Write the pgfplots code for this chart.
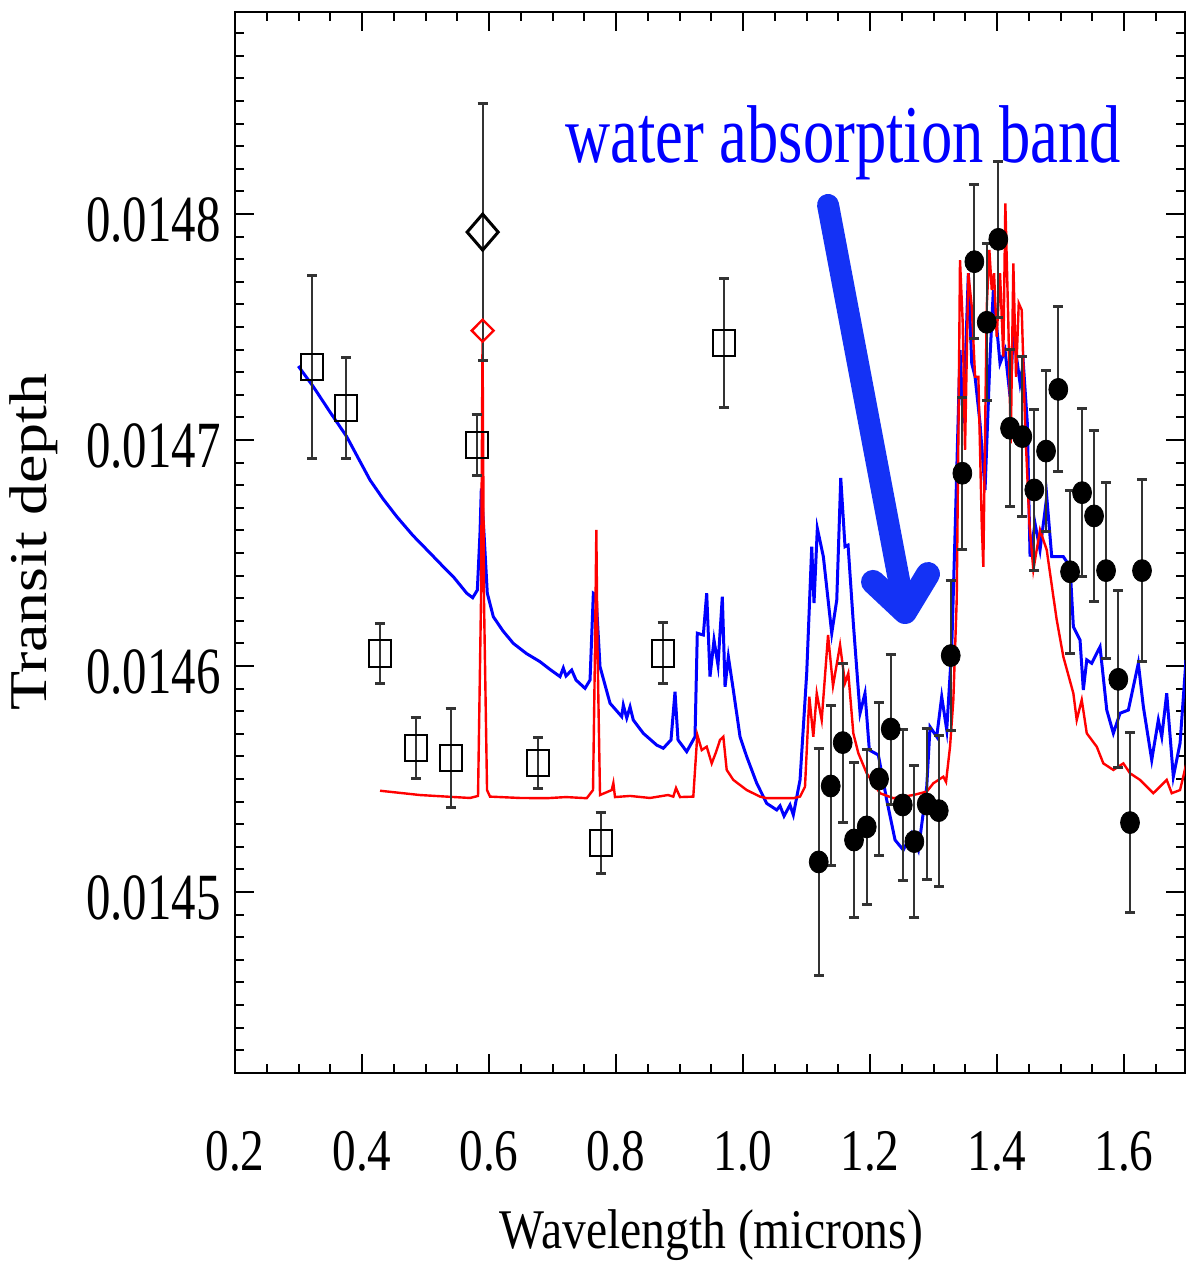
\documentclass[border=0pt]{standalone}
\usepackage{fontspec}
\setmainfont{Liberation Serif}
\usepackage{graphicx}
\usepackage{pgfplots}
\pgfplotsset{compat=1.18}
\definecolor{arrowblue}{RGB}{20,50,245}

\pgfplotstableread{
x y
0.2997 0.0147327
0.3233 0.0147236
0.3496 0.0147124
0.3759 0.0147015
0.3950 0.0146915
0.4126 0.0146823
0.4330 0.0146740
0.4547 0.0146661
0.4800 0.0146578
0.5071 0.0146500
0.5260 0.0146445
0.5438 0.0146395
0.5649 0.0146322
0.5743 0.0146302
0.5816 0.0146336
0.5858 0.0146588
0.5879 0.0146786
0.5921 0.0146588
0.5973 0.0146322
0.6068 0.0146218
0.6220 0.0146155
0.6383 0.0146100
0.6590 0.0146055
0.6803 0.0146019
0.6960 0.0145985
0.7118 0.0145953
0.7170 0.0145991
0.7213 0.0145956
0.7302 0.0145982
0.7370 0.0145938
0.7512 0.0145901
0.7591 0.0145938
0.7643 0.0146322
0.7685 0.0146314
0.7748 0.0145997
0.7906 0.0145835
0.8090 0.0145776
0.8115 0.0145827
0.8169 0.0145770
0.8221 0.0145819
0.8272 0.0145761
0.8430 0.0145702
0.8641 0.0145650
0.8745 0.0145636
0.8866 0.0145673
0.8929 0.0145886
0.8976 0.0145673
0.9113 0.0145621
0.9244 0.0145687
0.9280 0.0146145
0.9375 0.0146137
0.9428 0.0146322
0.9480 0.0145953
0.9543 0.0146115
0.9606 0.0146004
0.9674 0.0146307
0.9717 0.0145908
0.9769 0.0146041
0.9847 0.0145894
0.9953 0.0145687
1.0058 0.0145599
1.0216 0.0145481
1.0373 0.0145392
1.0531 0.0145363
1.0583 0.0145381
1.0646 0.0145336
1.0740 0.0145385
1.0792 0.0145341
1.0898 0.0145496
1.1003 0.0145969
1.1082 0.0146528
1.1118 0.0146279
1.1170 0.0146609
1.1265 0.0146484
1.1397 0.0146145
1.1476 0.0146292
1.1539 0.0146832
1.1606 0.0146528
1.1654 0.0146535
1.1737 0.0146189
1.1843 0.0145791
1.1921 0.0145879
1.1989 0.0145628
1.2131 0.0145606
1.2263 0.0145407
1.2394 0.0145230
1.2524 0.0145186
1.2657 0.0145260
1.2761 0.0145186
1.2893 0.0145466
1.2945 0.0145731
1.3050 0.0145687
1.3129 0.0145864
1.3208 0.0145717
1.3287 0.0146085
1.3339 0.0146587
1.3417 0.0147398
1.3469 0.0147074
1.3548 0.0147738
1.3602 0.0147339
1.3654 0.0147280
1.3732 0.0147074
1.3811 0.0146779
1.3890 0.0147369
1.3942 0.0147664
1.4047 0.0147339
1.4126 0.0147398
1.4205 0.0147192
1.4257 0.0147472
1.4362 0.0147251
1.4414 0.0147339
1.4477 0.0147074
1.4520 0.0146484
1.4598 0.0146631
1.4677 0.0146513
1.4783 0.0146749
1.4861 0.0146484
1.5044 0.0146484
1.5150 0.0146439
1.5202 0.0146174
1.5307 0.0146115
1.5359 0.0145894
1.5413 0.0146027
1.5491 0.0146012
1.5622 0.0146085
1.5728 0.0145805
1.5832 0.0145702
1.5937 0.0145791
1.6068 0.0145805
1.6225 0.0146012
1.6304 0.0145820
1.6436 0.0145584
1.6540 0.0145761
1.6594 0.0145687
1.6672 0.0145879
1.6776 0.0145510
1.6882 0.0145658
1.6976 0.0146027
}\bluemodel

\pgfplotstableread{
x y
0.4284 0.0145448
0.4913 0.0145429
0.5334 0.0145422
0.5701 0.0145416
0.5827 0.0145425
0.5874 0.0146292
0.5898 0.0147443
0.5921 0.0146292
0.5969 0.0145451
0.6016 0.0145422
0.6488 0.0145416
0.6909 0.0145415
0.7213 0.0145420
0.7539 0.0145415
0.7638 0.0145451
0.7669 0.0146071
0.7690 0.0146602
0.7709 0.0146071
0.7748 0.0145429
0.7932 0.0145451
0.7958 0.0145482
0.7984 0.0145420
0.8221 0.0145425
0.8535 0.0145416
0.8819 0.0145429
0.8902 0.0145422
0.8945 0.0145460
0.9008 0.0145420
0.9217 0.0145422
0.9280 0.0145695
0.9350 0.0145628
0.9428 0.0145643
0.9507 0.0145569
0.9575 0.0145619
0.9638 0.0145673
0.9690 0.0145687
0.9743 0.0145540
0.9847 0.0145496
1.0058 0.0145451
1.0268 0.0145422
1.0373 0.0145415
1.0792 0.0145415
1.0898 0.0145422
1.0976 0.0145466
1.1044 0.0145864
1.1107 0.0145687
1.1161 0.0145879
1.1239 0.0145761
1.1339 0.0146137
1.1417 0.0145912
1.1528 0.0146093
1.1606 0.0145925
1.1658 0.0145968
1.1737 0.0145702
1.1816 0.0145614
1.1948 0.0145525
1.2158 0.0145437
1.2367 0.0145415
1.2682 0.0145429
1.2893 0.0145444
1.2997 0.0145481
1.3154 0.0145510
1.3197 0.0145487
1.3260 0.0145643
1.3312 0.0145850
1.3365 0.0146292
1.3394 0.0147089
1.3417 0.0147796
1.3460 0.0147516
1.3496 0.0146956
1.3548 0.0147738
1.3602 0.0147590
1.3654 0.0147280
1.3706 0.0147280
1.3759 0.0146631
1.3784 0.0146439
1.3838 0.0147590
1.3879 0.0147841
1.3917 0.0147664
1.3953 0.0147738
1.3995 0.0147457
1.4047 0.0147738
1.4099 0.0147369
1.4131 0.0148047
1.4178 0.0147516
1.4216 0.0146985
1.4257 0.0147782
1.4299 0.0147280
1.4342 0.0147605
1.4389 0.0147575
1.4441 0.0147074
1.4509 0.0146631
1.4572 0.0146425
1.4677 0.0146602
1.4783 0.0146513
1.4887 0.0146307
1.4940 0.0146204
1.5044 0.0146041
1.5202 0.0145879
1.5255 0.0145761
1.5334 0.0145850
1.5413 0.0145702
1.5570 0.0145643
1.5674 0.0145569
1.5832 0.0145540
1.5989 0.0145569
1.6095 0.0145525
1.6252 0.0145496
1.6461 0.0145437
1.6672 0.0145496
1.6751 0.0145437
1.6882 0.0145451
1.6976 0.0145562
}\redmodel

\begin{document}
\begin{tikzpicture}
\begin{axis}[
  width=475pt, height=530.5pt, scale only axis,
  xmin=0.2, xmax=1.696, ymin=0.0144199, ymax=0.0148894,
  axis line style={line width=1.2pt, black},
  tick style={line width=1pt, black},
  major tick length=9.5pt, minor tick length=4.5pt,
  tick align=inside,
  xtick={0.2,0.4,0.6,0.8,1.0,1.2,1.4,1.6},
  minor xtick={0.25,0.3,0.35,0.45,0.5,0.55,0.65,0.7,0.75,0.85,0.9,0.95,1.05,1.1,1.15,1.25,1.3,1.35,1.45,1.5,1.55,1.65},
  ytick={0.0145,0.0146,0.0147,0.0148},
  minor ytick={0.01443,0.01444,0.01445,0.01446,0.01447,0.01448,0.01449,0.01451,0.01452,0.01453,0.01454,0.01455,0.01456,0.01457,0.01458,0.01459,0.01461,0.01462,0.01463,0.01464,0.01465,0.01466,0.01467,0.01468,0.01469,0.01471,0.01472,0.01473,0.01474,0.01475,0.01476,0.01477,0.01478,0.01479,0.01481,0.01482,0.01483,0.01484,0.01485,0.01486,0.01487,0.01488},
  scaled y ticks=false, scaled x ticks=false,
  /pgf/number format/assume math mode=true,
  xticklabel={\scalebox{0.8}[1]{\fontsize{29.5}{30}\selectfont\pgfmathprintnumber[fixed,fixed zerofill,precision=1]{\tick}}},
  yticklabel={\scalebox{0.74}[1]{\fontsize{33}{34}\selectfont\pgfmathprintnumber[fixed,fixed zerofill,precision=4]{\tick}}},
  xticklabel style={anchor=north, inner sep=0pt, yshift=-29pt},
  yticklabel style={anchor=east, inner sep=0pt, xshift=-7pt, yshift=-3pt},
  error bars/error bar style={line width=1pt, black!80},
  error bars/error mark options={rotate=90, line width=1.5pt, black!80, mark size=2.5pt},
]
\addplot[blue, line width=1.5pt, no marks] table {\bluemodel};
\addplot[red, line width=1.2pt, no marks] table {\redmodel};

% open squares
\addplot[only marks, mark=square, mark size=6.7pt, black, line width=1pt,
  mark options={xscale=0.82},
  error bars/.cd, y dir=both, y explicit] coordinates {
(0.3213,0.0147323) +- (0,4.03e-5)
(0.3748,0.0147142) +- (0,2.23e-5)
(0.4283,0.0146057) +- (0,1.33e-5)
(0.4846,0.0145637) +- (0,1.35e-5)
(0.5397,0.0145593) +- (0,2.2e-5)
(0.5806,0.0146978) +- (0,1.33e-5)
(0.6772,0.0145571) +- (0,1.13e-5)
(0.7759,0.0145217) +- (0,1.35e-5)
(0.8735,0.0146057) +- (0,1.35e-5)
(0.9701,0.0147429) +- (0,2.85e-5)
};

% black diamond
\addplot[only marks, mark=diamond, mark size=9pt, black, line width=1.5pt,
  mark options={xscale=1.15},
  error bars/.cd, y dir=both, y explicit] coordinates {
(0.590,0.014792) +- (0,5.7e-5)
};
% red diamond
\addplot[only marks, mark=diamond, mark size=5.5pt, red, line width=1.2pt,
  mark options={xscale=1.33}] coordinates {(0.590,0.0147484)};

% filled circles
\addplot[only marks, mark=*, mark size=5.5pt, black,
  mark options={xscale=0.86, fill=black},
  error bars/.cd, y dir=both, y explicit] coordinates {
(1.1192,0.0145133) +- (0,5.04e-5)
(1.1381,0.0145469) +- (0,3.54e-5)
(1.1570,0.0145661) +- (0,3.52e-5)
(1.1748,0.0145230) +- (0,3.43e-5)
(1.1948,0.0145288) +- (0,3.43e-5)
(1.2142,0.0145500) +- (0,3.39e-5)
(1.2326,0.0145721) +- (0,3.32e-5)
(1.2515,0.0145385) +- (0,3.32e-5)
(1.2698,0.0145223) +- (0,3.36e-5)
(1.2893,0.0145389) +- (0,3.34e-5)
(1.3082,0.0145360) +- (0,3.34e-5)
(1.3271,0.0146046) +- (0,3.33e-5)
(1.3454,0.0146853) +- (0,3.36e-5)
(1.3643,0.0147789) +- (0,3.41e-5)
(1.3838,0.0147521) +- (0,3.47e-5)
(1.4020,0.0147888) +- (0,3.44e-5)
(1.4205,0.0147052) +- (0,3.47e-5)
(1.4398,0.0147015) +- (0,3.53e-5)
(1.4587,0.0146779) +- (0,3.55e-5)
(1.4772,0.0146951) +- (0,3.58e-5)
(1.4965,0.0147224) +- (0,3.65e-5)
(1.5150,0.0146417) +- (0,3.61e-5)
(1.5339,0.0146767) +- (0,3.71e-5)
(1.5528,0.0146664) +- (0,3.78e-5)
(1.5717,0.0146422) +- (0,3.89e-5)
(1.5910,0.0145941) +- (0,3.91e-5)
(1.6094,0.0145307) +- (0,3.97e-5)
(1.6283,0.0146422) +- (0,4.03e-5)
};

% annotation arrow
\draw[arrowblue, line width=11pt, line cap=round, line join=round]
  (axis cs:1.13386,0.0148040) -- (axis cs:1.25512,0.0146239);
\draw[arrowblue, line width=12pt, line cap=round, line join=round]
  (axis cs:1.20472,0.0146372) -- (axis cs:1.25512,0.0146239) -- (axis cs:1.29134,0.0146407);
\end{axis}

\begin{scope}[x=0.5pt, y=-0.5pt, shift={(current axis.south west)}, shift={(-235,-1073)}]
\node[anchor=base west, inner sep=0pt, text=blue] at (565,163)
  {\scalebox{0.762}[1]{\fontsize{41}{48}\selectfont water absorption band}};
\node[anchor=base, inner sep=0pt] at (711.5,1248)
  {\scalebox{0.85}[1]{\fontsize{28}{34}\selectfont Wavelength (microns)}};
\node[rotate=90, anchor=base, inner sep=0pt] at (47,542)
  {\scalebox{1}[0.83]{\fontsize{32}{38}\selectfont Transit depth}};
\end{scope}
\pgfresetboundingbox
\begin{scope}[x=0.5pt, y=-0.5pt, shift={(current axis.south west)}, shift={(-235,-1073)}]
\path[use as bounding box] (0,0) rectangle (1186,1268);
\end{scope}
\end{tikzpicture}
\end{document}
